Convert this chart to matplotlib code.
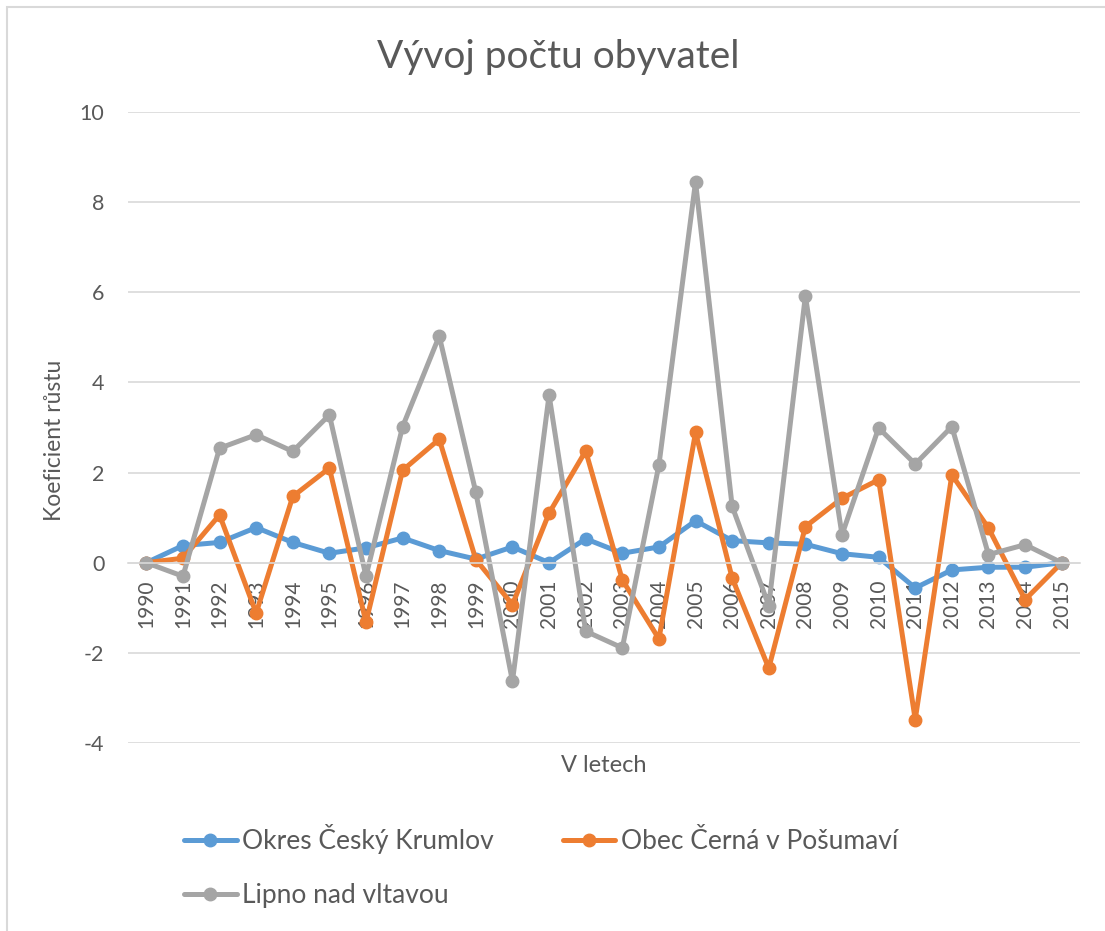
import matplotlib
matplotlib.use('Agg')
import matplotlib.pyplot as plt
from matplotlib.patches import Rectangle

# Data
years = list(range(1990, 2016))
okres_krumlov = [0, 0.38, 0.45, 0.78, 0.45, 0.21, 0.33, 0.55, 0.27, 0.08,
                 0.35, 0.0, 0.53, 0.21, 0.35, 0.93, 0.49, 0.44, 0.41, 0.20,
                 0.12, -0.56, -0.16, -0.10, -0.10, 0]
obec_cerna = [0, 0.10, 1.06, -1.12, 1.47, 2.10, -1.32, 2.05, 2.74, 0.07,
              -0.93, 1.10, 2.48, -0.38, -1.69, 2.89, -0.34, -2.34, 0.80, 1.43,
              1.84, -3.48, 1.95, 0.77, -0.82, 0]
lipno = [0, -0.30, 2.54, 2.84, 2.47, 3.28, -0.30, 3.02, 5.03, 1.56,
         -2.63, 3.72, -1.52, -1.89, 2.17, 8.45, 1.25, -0.95, 5.92, 0.62,
         2.99, 2.19, 3.02, 0.18, 0.40, 0]
series_names = ['Okres Český Krumlov', 'Obec Černá v Pošumaví', 'Lipno nad vltavou']
colors = ['#5B9BD5', '#ED7D31', '#A5A5A5']

TXT = '#595959'
plt.rcParams['font.family'] = ['Lato', 'DejaVu Sans']
plt.rcParams['axes.unicode_minus'] = False

fig = plt.figure(figsize=(11.05, 9.31), dpi=100)
W, H = 1105, 931

# chart border (cropped on right/bottom)
fig.patches.append(Rectangle((7 / W, -0.1), 1.2, 1 - 7 / H + 0.1, transform=fig.transFigure,
                             fill=False, edgecolor='#D9D9D9', linewidth=1.5))

ax = fig.add_axes([128 / W, 1 - 743 / H, (1080 - 128) / W, (743 - 112) / H])
x = list(range(len(years)))
for vals, name, c in zip([okres_krumlov, obec_cerna, lipno], series_names, colors):
    ax.plot(x, vals, color=c, linewidth=3.6, marker='o', markersize=9,
            label=name, solid_capstyle='round', solid_joinstyle='round')

ax.set_xlim(-0.5, len(years) - 0.5)
ax.set_ylim(-4, 10)
ax.set_yticks(range(-4, 11, 2))
ax.grid(axis='y', color='#D9D9D9', linewidth=1.2)
ax.set_axisbelow(True)
for s in ['top', 'right', 'left']:
    ax.spines[s].set_visible(False)
ax.spines['bottom'].set_position(('data', 0))
ax.spines['bottom'].set_color('#D9D9D9')
ax.spines['bottom'].set_linewidth(1.2)
ax.set_xticks(x)
ax.set_xticklabels([str(y) for y in years], rotation=90, va='top', ha='center')
ax.tick_params(axis='x', length=0, pad=12, labelsize=15, labelcolor=TXT)
ax.tick_params(axis='y', length=0, pad=17, labelsize=15.5, labelcolor=TXT)

fig.text(558 / W, 1 - 57 / H, 'Vývoj počtu obyvatel', ha='center', va='center',
         fontsize=28, color=TXT)
fig.text(55 / W, 1 - 440 / H, 'Koeficient růstu', rotation=90, ha='center', va='center',
         fontsize=16.5, color=TXT)
fig.text(604 / W, 1 - 766 / H, 'V letech', ha='center', va='center', fontsize=17, color=TXT)

h, l = ax.get_legend_handles_labels()
order = [0, 2, 1]
fig.legend([h[i] for i in order], [l[i] for i in order], ncol=2, frameon=False,
           loc='upper left', bbox_to_anchor=(160 / W, 1 - 800 / H),
           fontsize=19, labelcolor=TXT, handlelength=2.0, handletextpad=0.22,
           columnspacing=2.6, labelspacing=1.1)

fig.savefig('out.png', dpi=100)
